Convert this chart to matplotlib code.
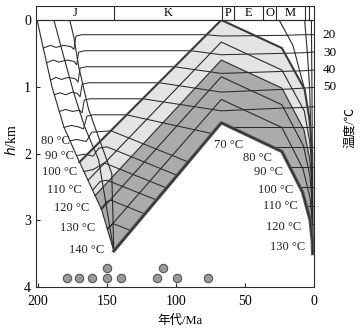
import matplotlib
matplotlib.use("Agg")
import matplotlib.pyplot as plt
from matplotlib.patches import Polygon, Rectangle
from matplotlib.transforms import blended_transform_factory

plt.rcParams['font.family'] = ['Liberation Serif', 'Noto Sans CJK SC']

# ---------------- data ----------------
period_labels = ['J', 'K', 'P', 'E', 'O', 'M', '', '']
period_bounds = [201.5, 145, 66.5, 58, 37, 27, 6.5, 3.5, -0.3]

# Jurassic horizons (age Ma, depth km)
j1_age = [200.7, 197.1, 189.9, 181.3, 171.9, 153.9, 145.0]
j1_dep = [0.0, 0.34, 1.0, 1.6, 2.04, 2.84, 3.46]
j2_age = [188.5, 182.7, 174.1, 166.2, 156.1, 145.0]
j2_dep = [0.0, 0.45, 1.09, 1.6, 2.09, 3.46]
j3_age = [177.0, 174.1, 170.5, 163.3, 151.8, 146.5, 145.0]
j3_dep = [0.0, 0.25, 0.7, 1.34, 2.0, 2.3, 3.46]

# Uplift / reburial band horizons (top -> bottom)
band_age = [
    [170.0, 67, 23, 6.5, 2.9, 1.0, 0.7],
    [163.7, 67, 23, 6.8, 2.8, 1.0, 0.7],
    [158.6, 67, 23, 7.1, 2.7, 1.0, 0.7],
    [154.0, 67, 23, 7.3, 2.7, 1.0, 0.7],
    [149.6, 67, 23, 7.7, 2.6, 1.0, 0.7],
    [145.0, 67, 23, 8.0, 2.5, 1.0, 0.7],
]
band_dep = [
    [2.13, 0.00, 0.42, 1.04, 1.50, 2.00, 3.5],
    [2.40, 0.33, 0.75, 1.36, 1.82, 2.27, 3.5],
    [2.63, 0.60, 1.02, 1.64, 2.09, 2.51, 3.5],
    [2.84, 0.85, 1.27, 1.89, 2.33, 2.72, 3.5],
    [3.14, 1.19, 1.61, 2.23, 2.66, 3.00, 3.5],
    [3.46, 1.54, 1.97, 2.58, 3.00, 3.30, 3.5],
]

# Cenozoic horizons
c1_age = [25.0, 15.0, 6.5]
c1_dep = [0.0, 0.38, 1.04]
c2_age = [6.5, 4.5, 2.9, 1.6, 0.7]
c2_dep = [0.0, 0.5, 1.0, 2.0, 3.5]
c3_age = [1.6, 1.2, 0.8, 0.7]
c3_dep = [0.0, 1.0, 2.5, 3.5]

# Isotherms (temperature °C -> segments of (ages, depths))
isotherms = {
    20: [([196.2, 191, 187, 181, 176, 174, 172.5, 168, 78, 67, 23, 7, 0],
          [0.42, 0.38, 0.41, 0.38, 0.40, 0.44, 0.24, 0.22, 0.22, 0.24, 0.23, 0.22, 0.22])],
    30: [([193.8, 189, 185, 179, 174, 172, 170.5, 166, 89, 67, 23, 7, 0],
          [0.64, 0.60, 0.63, 0.60, 0.62, 0.67, 0.48, 0.46, 0.46, 0.52, 0.50, 0.49, 0.48])],
    40: [([191.0, 187, 183, 178, 173, 171, 169.5, 165, 101, 67, 23, 7, 0],
          [0.90, 0.86, 0.89, 0.86, 0.88, 0.93, 0.72, 0.70, 0.70, 0.80, 0.77, 0.76, 0.75])],
    50: [([188.2, 184, 180, 175, 171.5, 169.5, 168, 163, 112, 67, 23, 7, 0],
          [1.12, 1.09, 1.12, 1.08, 1.10, 1.15, 0.96, 0.94, 0.94, 1.08, 1.04, 1.02, 1.01])],
    60: [([184.6, 180, 175, 170, 168, 166.5, 162, 124, 67, 23, 7, 0],
          [1.37, 1.34, 1.37, 1.35, 1.39, 1.20, 1.18, 1.18, 1.36, 1.32, 1.31, 1.30])],
    70: [([181.2, 176, 171, 167, 164.5, 160, 136, 74],
          [1.61, 1.58, 1.60, 1.63, 1.44, 1.42, 1.42, 1.70]),
         ([60.9, 23, 7, 0], [1.60, 1.60, 1.60, 1.60])],
    80: [([176.8, 172, 165, 161, 147, 90.6], [1.81, 1.79, 1.82, 1.68, 1.66, 2.13]),
         ([30.2, 7, 0], [1.90, 1.90, 1.90])],
    90: [([172.1, 166, 160, 156, 150, 98.6], [2.03, 2.01, 2.04, 1.92, 1.90, 2.33]),
         ([17.3, 7, 0], [2.20, 2.20, 2.20])],
    100: [([166.7, 160, 155, 152, 106.3], [2.27, 2.24, 2.18, 2.14, 2.52]),
          ([10.0, 0], [2.50, 2.50])],
    110: [([160.4, 155, 150, 113.6], [2.55, 2.42, 2.40, 2.70]),
          ([5.4, 0], [2.78, 2.78])],
    120: [([154.3, 150, 147, 121.9], [2.82, 2.72, 2.70, 2.91]),
          ([2.2, 0], [3.06, 3.06])],
    130: [([149.9, 145.5, 132.0], [3.12, 3.05, 3.16]),
          ([0.93, 0], [3.35, 3.35])],
}

left_label_T = [80, 90, 100, 110, 120, 130, 140]
right_label_T = [70, 80, 90, 100, 110, 120, 130]
scale_T = [20, 30, 40, 50]

# samples
sample_age = [179, 170, 161, 150, 140, 114, 99, 77, 150, 109]
sample_dep = [3.87, 3.87, 3.87, 3.87, 3.87, 3.87, 3.87, 3.87, 3.72, 3.72]

# ---------------- layout ----------------
left_label_pos = [(177.0, 1.81), (174.1, 2.03), (171.9, 2.27), (168.3, 2.55),
                  (162.6, 2.82), (158.3, 3.12), (151.8, 3.45)]
right_label_pos = [(51.1, 1.88), (30.2, 2.07), (22.3, 2.27), (15.1, 2.54),
                   (11.5, 2.79), (8.6, 3.10), (5.8, 3.40)]
scale_pos = [0.22, 0.49, 0.75, 1.01]

LC = '#2b2b2b'
fig = plt.figure(figsize=(3.61, 3.32), dpi=100)
ax = fig.add_axes([36 / 361, 1 - 287 / 332, 278 / 361, 281 / 332])
ax.set_xlim(201.5, -0.3)
ax.set_ylim(4.0, -0.21)

# shading
top = band_age[0], band_dep[0]
mid = band_age[2], band_dep[2]
bot = band_age[5], band_dep[5]
light = list(zip(top[0], top[1])) + list(zip(mid[0][::-1], mid[1][::-1]))
ax.add_patch(Polygon(light, closed=True, facecolor='#e4e4e4', edgecolor='none', zorder=1))
dark = (list(zip(mid[0], mid[1])) + list(zip(bot[0][::-1], bot[1][::-1]))
        + [(153.9, 2.84)])
ax.add_patch(Polygon(dark, closed=True, facecolor='#ababab', edgecolor='none', zorder=1))

# isotherms
for T, segs in isotherms.items():
    for a, d in segs:
        ax.plot(a, d, color=LC, lw=0.75, zorder=2)

# horizons
for a, d in [(j1_age, j1_dep), (j2_age, j2_dep), (j3_age, j3_dep),
             (c1_age, c1_dep), (c2_age, c2_dep), (c3_age, c3_dep)]:
    ax.plot(a, d, color=LC, lw=0.8, zorder=3)
for i, (a, d) in enumerate(zip(band_age, band_dep)):
    if i == 0:
        ax.plot(a, d, color='#3a3a3a', lw=1.5, zorder=3)
    elif i == len(band_age) - 1:
        ax.plot(a, d, color='#555555', lw=2.4, zorder=3)
        ax.plot(a, d, color='#222222', lw=0.6, zorder=3)
    else:
        ax.plot(a, d, color=LC, lw=0.8, zorder=3)

# samples
ax.scatter(sample_age, sample_dep, s=36, facecolor='#9a9a9a', edgecolor='#555555',
           linewidth=0.8, zorder=4, clip_on=False)

# time scale band
ax.add_patch(Rectangle((period_bounds[-1], -0.21), period_bounds[0] - period_bounds[-1], 0.21,
                       facecolor='white', edgecolor=LC, lw=0.8, zorder=5))
for b in period_bounds[1:-1]:
    ax.plot([b, b], [-0.21, 0], color=LC, lw=0.8, zorder=6)
ax.axhline(0, color=LC, lw=0.8, zorder=6)
for i, lab in enumerate(period_labels):
    if lab:
        ax.text((period_bounds[i] + period_bounds[i + 1]) / 2, -0.1, lab,
                ha='center', va='center', fontsize=9, zorder=7)

# temperature labels
for T, (a, d) in zip(left_label_T, left_label_pos):
    ax.text(a, d, f'{T} °C', ha='right', va='center', fontsize=9, color='#222222', zorder=7)
for T, (a, d) in zip(right_label_T, right_label_pos):
    ax.text(a, d, f'{T} °C', ha='right', va='center', fontsize=9, color='#222222', zorder=7)
tr = blended_transform_factory(ax.transAxes, ax.transData)
for T, d in zip(scale_T, scale_pos):
    ax.text(1.032, d, str(T), transform=tr, ha='left', va='center', fontsize=9.5)

# axes styling
for s in ax.spines.values():
    s.set_color(LC)
    s.set_linewidth(0.8)
ax.spines['top'].set_visible(False)
ax.set_xticks([200, 150, 100, 50, 0])
ax.set_yticks([0, 1, 2, 3, 4])
ax.tick_params(direction='in', length=3, width=0.8, color=LC, labelsize=10)
ax.tick_params(axis='x', pad=6)

fig.text(12 / 361, 1 - 140 / 332, r'$h$/km', rotation=90, ha='center', va='center', fontsize=10)
fig.text(180 / 361, 1 - 321 / 332, '年代/Ma', ha='center', va='center', fontsize=9)
fig.text(350 / 361, 1 - 128 / 332, '温度/℃', rotation=90, ha='center', va='center', fontsize=9)

fig.savefig('out.png', dpi=100, facecolor='white')
